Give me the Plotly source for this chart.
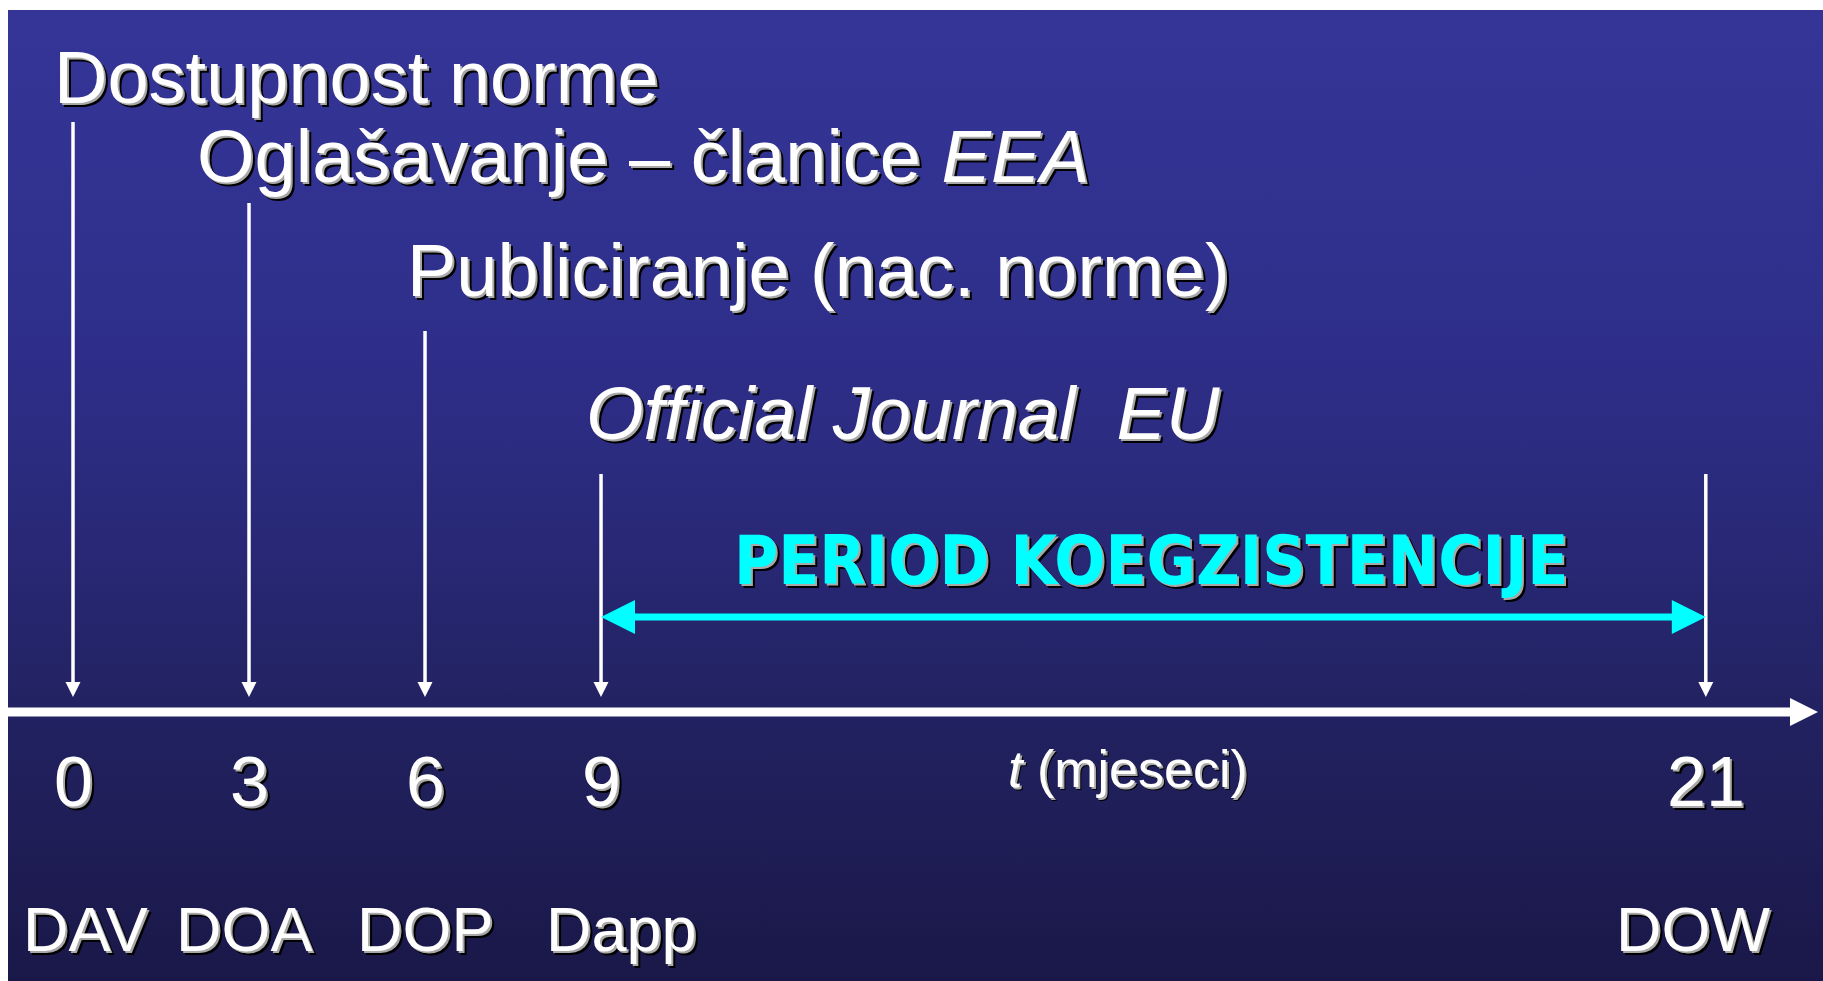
import plotly.graph_objects as go

# ---------------- data ----------------
months = [0, 3, 6, 9, 21]                      # tick values (months)
axis_pos = [0, 3, 6, 9, 27.83]                 # where each month sits on the (broken) timeline
codes = ["DAV", "DOA", "DOP", "Dapp", "DOW"]
event_labels = [
    "Dostupnost norme",
    "Oglašavanje – članice <i>EEA</i>",
    "Publiciranje (nac. norme)",
    "<i>Official Journal&nbsp; EU</i>",
]
axis_title = "<i>t</i> (mjeseci)"
period_label = "PERIOD KOEGZISTENCIJE"
period_start_idx, period_end_idx = 3, 4        # Dapp -> DOW

# ---------------- layout constants ----------------
W, H = 1823, 981
PX0, PX_PER = 73.0, 58.67
X_RANGE = [(0 - PX0) / PX_PER, (W - PX0) / PX_PER]


def px2x(px):
    return (px - PX0) / PX_PER


AXIS_Y = 712
TIP_Y = 697
arrow_tops = [122, 203, 331, 474, 474]
label_left_px = [52, 195, 405, 584]
label_y = [77, 156, 270, 413]
code_center_px = [85, 244, 425, 621, 1693]
CYAN_Y = 617

WHITE = "#ffffff"
CYAN = "#00ffff"
SHADOW_BIG = "2px 2px 0px #a8a8a8, 4px 4px 0px #000000"
SHADOW_SMALL = "2px 2px 0px #a8a8a8, 3px 3px 0px #000000"
FONT = "Liberation Sans, Arial, sans-serif"

fig = go.Figure()

# background gradient panel
fig.add_trace(go.Scatter(
    x=[px2x(8), px2x(W + 10), px2x(W + 10), px2x(8), px2x(8)],
    y=[10, 10, H + 10, H + 10, 10],
    mode="lines", line=dict(width=0), fill="toself",
    fillgradient=dict(type="vertical", start=10, stop=H,
                      colorscale=[[0, "#353598"], [0.35, "#2e2e8a"],
                                  [0.5, "#2a2a7c"], [0.72, "#222262"],
                                  [1, "#1a1848"]]),
    hoverinfo="skip", showlegend=False))

# time axis with arrow
axis_tip = px2x(1818)
fig.add_trace(go.Scatter(
    x=[px2x(8), axis_tip - 20 / PX_PER], y=[AXIS_Y, AXIS_Y],
    mode="lines", line=dict(color=WHITE, width=9),
    hoverinfo="skip", showlegend=False))
fig.add_trace(go.Scatter(
    x=[axis_tip], y=[AXIS_Y], mode="markers",
    marker=dict(symbol="arrow-right", size=28, color=WHITE, line=dict(width=0)),
    hoverinfo="skip", showlegend=False))

# vertical event arrows
vx, vy = [], []
for p, top in zip(axis_pos, arrow_tops):
    vx += [p, p, None]
    vy += [top, TIP_Y - 8, None]
fig.add_trace(go.Scatter(
    x=vx, y=vy, mode="lines", line=dict(color=WHITE, width=3.5),
    hoverinfo="skip", showlegend=False))
fig.add_trace(go.Scatter(
    x=axis_pos, y=[TIP_Y] * len(axis_pos), mode="markers",
    marker=dict(symbol="arrow-down", size=15, color=WHITE, line=dict(width=0)),
    hoverinfo="skip", showlegend=False))

# coexistence period double arrow
xs, xe = axis_pos[period_start_idx], axis_pos[period_end_idx]
head = 30 / PX_PER
fig.add_trace(go.Scatter(
    x=[xs + head, xe - head], y=[CYAN_Y, CYAN_Y], mode="lines",
    line=dict(color=CYAN, width=7), hoverinfo="skip", showlegend=False))
fig.add_trace(go.Scatter(
    x=[xs, xe], y=[CYAN_Y, CYAN_Y], mode="markers",
    marker=dict(symbol=["arrow-left", "arrow-right"], size=34, color=CYAN,
                line=dict(width=0)),
    hoverinfo="skip", showlegend=False))

annotations = []
# event labels
for txt, lx, ly in zip(event_labels, label_left_px, label_y):
    annotations.append(dict(
        text=txt, xref="paper", yref="y", x=lx / W, y=ly,
        xanchor="left", yanchor="middle", showarrow=False,
        font=dict(family=FONT, size=74, color=WHITE, shadow=SHADOW_BIG)))
# tick labels
for m, p in zip(months, axis_pos):
    annotations.append(dict(
        text=str(m), xref="x", yref="y", x=p, y=782,
        xanchor="center", yanchor="middle", showarrow=False,
        font=dict(family=FONT, size=70, color=WHITE, shadow=SHADOW_BIG)))
# code labels
for c, cx in zip(codes, code_center_px):
    annotations.append(dict(
        text=c, xref="paper", yref="y", x=cx / W, y=929,
        xanchor="center", yanchor="middle", showarrow=False,
        font=dict(family=FONT, size=63, color=WHITE, shadow=SHADOW_BIG)))
# axis title
annotations.append(dict(
    text=axis_title, xref="paper", yref="y", x=1128 / W, y=769,
    xanchor="center", yanchor="middle", showarrow=False,
    font=dict(family=FONT, size=52, color=WHITE, shadow=SHADOW_SMALL)))
# period label
annotations.append(dict(
    text="<b>" + period_label + "</b>", xref="paper", yref="y", x=1151 / W, y=561,
    xanchor="center", yanchor="middle", showarrow=False,
    font=dict(family="DejaVu Sans Condensed, DejaVu Sans, sans-serif", size=67,
              color=CYAN, shadow=SHADOW_BIG)))

fig.update_layout(
    width=W, height=H,
    margin=dict(l=0, r=0, t=0, b=0, pad=0),
    paper_bgcolor="white", plot_bgcolor="white",
    xaxis=dict(range=X_RANGE, visible=False, fixedrange=True),
    yaxis=dict(range=[H, 0], visible=False, fixedrange=True),
    showlegend=False,
    annotations=annotations,
)

fig.write_html(
    "out.html",
    config={"displayModeBar": False},
    post_script="document.body.style.margin='0px';"
                "document.documentElement.style.overflow='hidden';",
)
